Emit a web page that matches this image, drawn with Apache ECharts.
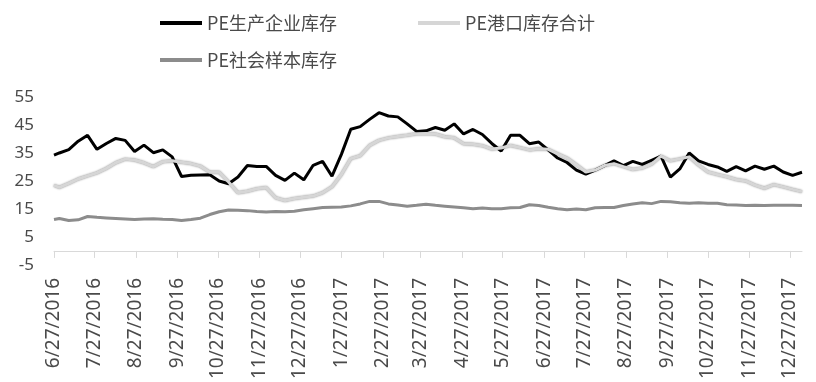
<!DOCTYPE html>
<html>
<head>
<meta charset="utf-8">
<script src="https://cdn.jsdelivr.net/npm/echarts@6/dist/echarts.min.js"></script>
<style>
  html, body { margin: 0; padding: 0; background: #fff; }
  #chart { width: 816px; height: 382px; }
</style>
</head>
<body>
<div id="chart"></div>
<script>
// weekly observation dates
const dates = [
  '2016-06-27',
  '2016-07-01', '2016-07-08', '2016-07-15', '2016-07-22', '2016-07-29',
  '2016-08-05', '2016-08-12', '2016-08-19', '2016-08-26',
  '2016-09-02', '2016-09-09', '2016-09-16', '2016-09-23', '2016-09-30',
  '2016-10-07', '2016-10-14', '2016-10-21', '2016-10-28',
  '2016-11-04', '2016-11-11', '2016-11-18', '2016-11-25',
  '2016-12-02', '2016-12-09', '2016-12-16', '2016-12-23', '2016-12-30',
  '2017-01-06', '2017-01-13', '2017-01-20', '2017-01-27',
  '2017-02-03', '2017-02-10', '2017-02-17', '2017-02-24',
  '2017-03-03', '2017-03-10', '2017-03-17', '2017-03-24', '2017-03-31',
  '2017-04-07', '2017-04-14', '2017-04-21', '2017-04-28',
  '2017-05-05', '2017-05-12', '2017-05-19', '2017-05-26',
  '2017-06-02', '2017-06-09', '2017-06-16', '2017-06-23', '2017-06-30',
  '2017-07-07', '2017-07-14', '2017-07-21', '2017-07-28',
  '2017-08-04', '2017-08-11', '2017-08-18', '2017-08-25',
  '2017-09-01', '2017-09-08', '2017-09-15', '2017-09-22', '2017-09-29',
  '2017-10-06', '2017-10-13', '2017-10-20', '2017-10-27',
  '2017-11-03', '2017-11-10', '2017-11-17', '2017-11-24',
  '2017-12-01', '2017-12-08', '2017-12-15', '2017-12-22', '2017-12-29',
  '2018-01-05'
];

// PE生产企业库存
const prodStock = [
  34.2,
  35.0, 36.2, 39.2, 41.3, 36.3, 38.4, 40.2, 39.5, 35.5, 37.8,
  35.1, 36.1, 33.6, 26.6, 27.0, 27.1, 27.2, 25.0, 24.0, 26.4,
  30.5, 30.2, 30.2, 27.0, 25.2, 27.8, 25.4, 30.6, 32.0, 26.7,
  34.5, 43.5, 44.4, 47.0, 49.4, 48.2, 47.9, 45.4, 42.7, 42.9,
  44.1, 43.1, 45.4, 41.8, 43.4, 41.6, 38.4, 35.7, 41.3, 41.3,
  38.3, 38.9, 36.1, 33.2, 31.6, 28.9, 27.4, 28.9, 30.5, 32.2,
  30.5, 32.0, 30.9, 32.4, 33.9, 26.4, 29.3, 35.0, 32.2, 30.9,
  30.0, 28.4, 30.1, 28.6, 30.3, 29.2, 30.3, 28.2, 27.0, 28.1
];

// PE港口库存合计
const portStock = [
  23.4,
  22.7, 24.1, 25.7, 26.8, 27.9, 29.5, 31.5, 32.8, 32.5, 31.5,
  30.1, 31.9, 32.2, 31.7, 31.2, 30.3, 28.1, 28.1, 24.6, 20.8,
  21.3, 22.2, 22.7, 19.0, 18.0, 18.7, 19.2, 19.6, 20.8, 22.9,
  27.3, 33.0, 34.0, 37.7, 39.5, 40.4, 40.9, 41.3, 41.9, 42.0,
  41.8, 40.8, 40.4, 38.3, 38.1, 37.6, 36.4, 36.8, 37.7, 36.9,
  36.1, 36.5, 36.3, 34.7, 33.2, 30.8, 28.2, 28.9, 30.5, 31.2,
  30.1, 29.1, 29.6, 31.0, 33.9, 32.2, 32.9, 33.6, 30.7, 28.2,
  27.3, 26.5, 25.5, 25.0, 23.5, 22.4, 23.7, 22.9, 22.0, 21.2
];

// PE社会样本库存
const socialStock = [
  11.2,
  11.6, 10.9, 11.1, 12.3, 12.0, 11.8, 11.6, 11.4, 11.2, 11.4,
  11.5, 11.3, 11.2, 10.9, 11.2, 11.7, 13.0, 14.0, 14.6, 14.5,
  14.4, 14.1, 13.9, 14.1, 14.0, 14.2, 14.7, 15.1, 15.5, 15.6,
  15.7, 16.1, 16.8, 17.7, 17.7, 16.8, 16.4, 16.0, 16.3, 16.7,
  16.3, 16.0, 15.7, 15.4, 15.1, 15.3, 15.1, 15.1, 15.4, 15.5,
  16.5, 16.2, 15.6, 15.1, 14.7, 15.0, 14.7, 15.4, 15.5, 15.5,
  16.2, 16.8, 17.2, 16.9, 17.7, 17.6, 17.2, 17.0, 17.2, 17.0,
  17.0, 16.5, 16.4, 16.2, 16.3, 16.2, 16.3, 16.3, 16.3, 16.2
];

const tickLabels = [
  '6/27/2016', '7/27/2016', '8/27/2016', '9/27/2016', '10/27/2016',
  '11/27/2016', '12/27/2016', '1/27/2017', '2/27/2017', '3/27/2017',
  '4/27/2017', '5/27/2017', '6/27/2017', '7/27/2017', '8/27/2017',
  '9/27/2017', '10/27/2017', '11/27/2017', '12/27/2017'
];

const seriesNames = ['PE生产企业库存', 'PE港口库存合计', 'PE社会样本库存'];

function toTime(s) {
  if (s.indexOf('/') > -1) {
    const [m, d, y] = s.split('/').map(Number);
    return new Date(y, m - 1, d).getTime();
  }
  const [y, m, d] = s.split('-').map(Number);
  return new Date(y, m - 1, d).getTime();
}

function fmtDate(t) {
  const d = new Date(t);
  return (d.getMonth() + 1) + '/' + d.getDate() + '/' + d.getFullYear();
}

const times = dates.map(toTime);
const tickTimes = tickLabels.map(toTime);
const pair = (arr) => times.map((t, i) => [t, arr[i]]);

const legendBase = {
  icon: 'rect',
  itemWidth: 42,
  itemHeight: 4,
  padding: 0,
  selectedMode: false,
  textStyle: { fontSize: 18, color: '#4a4a4a', fontFamily: 'Noto Sans CJK SC' },
};

const myChart = echarts.init(document.getElementById('chart'), null, { renderer: 'canvas' });

// x is a plain value axis over timestamps so the ticks can sit on the 27th of each month
myChart.setOption({
  animation: false,
  backgroundColor: '#fff',
  legend: [
    Object.assign({ data: [seriesNames[0]], left: 160, top: 14 }, legendBase),
    Object.assign({ data: [seriesNames[1]], left: 418, top: 14 }, legendBase),
    Object.assign({ data: [seriesNames[2]], left: 160, top: 51 }, legendBase),
  ],
  grid: { left: 54, right: 14, top: 97, bottom: 114, containLabel: false },
  xAxis: {
    type: 'value',
    min: times[0],
    max: times[times.length - 1],
    scale: true,
    axisLine: { onZero: true, lineStyle: { color: '#d9d9d9', width: 1 } },
    axisTick: { show: true, length: 7, customValues: tickTimes, lineStyle: { color: '#d9d9d9' } },
    axisLabel: {
      customValues: tickTimes,
      rotate: 90,
      margin: 13,
      fontSize: 19,
      color: '#4a4a4a',
      fontFamily: 'Noto Sans',
      formatter: (v) => fmtDate(v),
    },
    splitLine: { show: false },
  },
  yAxis: {
    type: 'value',
    min: -5,
    max: 55,
    interval: 10,
    axisLine: { show: false },
    axisTick: { show: false },
    splitLine: { show: false },
    axisLabel: { fontSize: 17, color: '#4a4a4a', fontFamily: 'Noto Sans', margin: 20 },
  },
  series: [
    {
      name: seriesNames[0], type: 'line', data: pair(prodStock),
      symbol: 'none', color: '#000000',
      lineStyle: { width: 3, color: '#000000' },
    },
    {
      name: seriesNames[1], type: 'line', data: pair(portStock),
      symbol: 'none', color: '#d6d6d6',
      lineStyle: { width: 3, color: '#d6d6d6', shadowColor: 'rgba(0,0,0,0.45)', shadowBlur: 2 },
    },
    {
      name: seriesNames[2], type: 'line', data: pair(socialStock),
      symbol: 'none', color: '#8c8c8c',
      lineStyle: { width: 3, color: '#8c8c8c' },
    },
  ],
});
</script>
</body>
</html>
